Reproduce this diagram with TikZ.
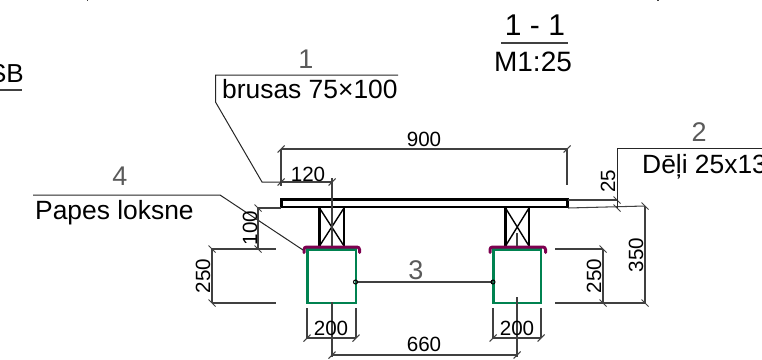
\documentclass[tikz,border=0pt]{standalone}
\usepackage{fontspec}
\setmainfont{Liberation Sans}
\definecolor{grn}{RGB}{0,130,80}
\definecolor{prp}{RGB}{125,0,80}
\definecolor{lab}{RGB}{90,90,90}
\tikzset{
 dim/.style={draw=black!75,line width=1.05pt},
 thin leader/.style={draw=black!85,line width=1pt},
 timber/.style={draw=black,line width=2.7pt},
 post/.style={draw=black,line width=2.4pt},
 brace/.style={draw=black,line width=1.4pt},
 column/.style={draw=grn,line width=2.6pt},
 sheet/.style={draw=prp,line width=3pt,line cap=round,rounded corners=2.5pt},
 num/.style={inner sep=0pt,font=\fontsize{20.6}{20.6}\selectfont},
 vnum/.style={num,rotate=90},
 txt/.style={inner sep=0pt,anchor=base west,font=\fontsize{26.4}{26.4}\selectfont},
 mark label/.style={inner sep=0pt,text=lab,font=\fontsize{27}{27}\selectfont},
}
\newcommand{\htick}[2]{\draw[dim] (#1-3.5,#2+3.5) -- (#1+3.5,#2-3.5);}
\newcommand{\vtick}[2]{\draw[dim] (#1-3.5,#2-3.5) -- (#1+3.5,#2+3.5);}
\begin{document}
\begin{tikzpicture}[x=1pt,y=-1pt]
\useasboundingbox (0,0) rectangle (762,359);
\clip (0,0) rectangle (762,359);
% plank, beams
\draw[timber] (281.5,199.5) rectangle (567.5,207);
\foreach \a/\b in {319.5/344,505.5/529}{
  \draw[post] (\a,208) -- (\a,247) (\b,208) -- (\b,247);
  \draw[brace] (\a,208) -- (\b,246) (\b,208) -- (\a,246);
}
% columns
\draw[column] (307.5,249.5) rectangle (356,303);
\draw[column] (493.5,249.5) rectangle (541,303);
\draw[sheet] (304,252.5) -- (304,247) -- (359.5,247) -- (359.5,252.5);
\draw[sheet] (490,252.5) -- (490,247) -- (545.5,247) -- (545.5,252.5);
% centre lines
\draw[dim] (332,178) -- (332,246);
\draw[dim] (332,302) -- (332,357);
\draw[dim] (517,233) -- (517,246);
\draw[dim] (517,297) -- (517,357);
% link 3
\node[mark label] (m3) at (416,270) {3};
\draw[dim] (355.5,282) -- (493,282);
\draw[line width=1pt,draw=black] (355.5,282) circle (2);
\draw[line width=1pt,draw=black] (493,282) circle (2);
% 900 / 120
\draw[dim] (281,149) -- (567,149);
\draw[dim] (281,149) -- (281,186);
\draw[dim] (567,149) -- (567,185);
\htick{281}{149}\htick{567}{149}
\node[num] (d900) at (424,139) {900};
\draw[dim] (281,182) -- (332,182);
\htick{281}{182}\htick{332}{182}
\node[num] (d120) at (308,174) {120};
% leader 1
\draw[thin leader] (398,75) -- (215.5,75) -- (215.5,102) -- (262,182) -- (281,182);
\node[mark label] (m1) at (306,59) {1};
\node[txt] (t1) at (222,98) {brusas 75×100};
% leader 4
\draw[thin leader] (33,195) -- (220,195) -- (303,250);
\node[mark label] (m4) at (120,176) {4};
\node[txt] (t4) at (35,219) {Papes loksne};
% 100
\draw[dim] (258,208) -- (281,208);
\draw[dim] (258,208) -- (258,249);
\vtick{258}{208}\vtick{258}{249}
\node[vnum] (d100) at (250,228) {100};
% left 250
\draw[dim] (212,249) -- (276,249);
\draw[dim] (212,303) -- (276,303);
\draw[dim] (212,249) -- (212,303);
\vtick{212}{249}\vtick{212}{303}
\node[vnum] (d250a) at (203,276) {250};
% 200s
\draw[dim] (307,308) -- (307,338) (356,308) -- (356,338) (307,338) -- (356,338);
\htick{307}{338}\htick{356}{338}
\node[num] (d200a) at (331,328) {200};
\draw[dim] (493,308) -- (493,338) (541,308) -- (541,338) (493,338) -- (541,338);
\htick{493}{338}\htick{541}{338}
\node[num] (d200b) at (517,328) {200};
% 660
\draw[dim] (332,355) -- (517,355);
\htick{332}{355}\htick{517}{355}
\node[num] (d660) at (424,344) {660};
% right 250 / 350
\draw[dim] (555,249) -- (603,249);
\draw[dim] (555,303) -- (645,303);
\draw[dim] (603,249) -- (603,303);
\vtick{603}{249}\vtick{603}{303}
\node[vnum] (d250b) at (594,276) {250};
\draw[dim] (568,208) -- (645,206);
\draw[dim] (645,206) -- (645,303);
\vtick{645}{206}\vtick{645}{303}
\node[vnum] (d350) at (636,255) {350};
% 25 + leader 2
\draw[dim] (568,200) -- (617,200);
\vtick{617}{200}\vtick{617}{208}
\draw[thin leader] (762,148) -- (617,148) -- (617,208);
\node[vnum] (d25) at (608,181) {25};
\node[mark label] (m2) at (699,132) {2};
\node[txt] (t2) at (642,173) {Dēļi 25x13};
% title
\node[inner sep=0pt,font=\fontsize{30}{30}\selectfont] (title) at (535,25) {1 - 1};
\draw[dim] (501,43) -- (568,43);
\node[inner sep=0pt,font=\fontsize{28}{28}\selectfont] (scale) at (533,62) {M1:25};
% SB fragment
\node[inner sep=0pt,anchor=base east,font=\fontsize{26}{26}\selectfont] (sb) at (24,82) {SB};
\draw[dim] (0,90) -- (22,90);
% cut-off marks at the top edge
\draw[dim] (87.5,0) -- (87.5,1.2);
\draw[dim] (658,0) -- (658,1.2);
\end{tikzpicture}
\end{document}
